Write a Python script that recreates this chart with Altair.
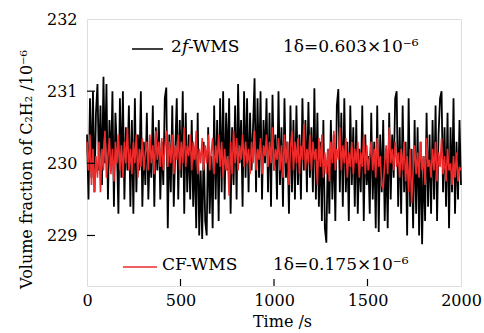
import altair as alt
import pandas as pd

# time axis (s), one sample every 8 s
time_s = list(range(0, 2001, 8))

wms_2f = [
    230.4, 229.5, 230.9, 229.8, 231.0, 229.6, 230.7, 231.1, 229.9, 230.8,
    229.7, 231.2, 230.0, 231.1, 229.5, 230.6, 229.9, 231.0, 229.4, 230.7,
    230.2, 229.3, 230.9, 229.8, 231.0, 229.5, 230.5, 229.9, 230.8, 229.4,
    230.6, 229.3, 230.9, 229.6, 230.4, 229.9, 231.0, 229.4, 230.3, 229.7,
    230.7, 229.5, 230.2, 229.8, 230.8, 229.4, 230.5, 229.9, 230.6, 229.5,
    230.3, 229.7, 230.9, 231.05, 229.1, 230.4, 229.6, 230.8, 229.4, 230.2,
    230.9, 229.5, 230.6, 229.8, 231.0, 229.3, 230.7, 229.6, 230.4, 229.5,
    230.6, 229.4, 230.2, 229.1, 230.7, 229.0, 229.9, 228.95, 230.3, 229.2,
    229.0, 230.5, 229.3, 230.1, 229.1, 230.8, 229.5, 230.6, 229.2, 230.9,
    229.6, 231.0, 229.5, 230.7, 229.9, 230.9, 229.3, 230.5, 229.7, 230.8,
    229.5, 231.1, 230.0, 230.6, 229.4, 231.0, 229.8, 230.9, 229.6, 230.7,
    229.9, 230.5, 231.18, 229.6, 230.9, 229.8, 231.0, 229.5, 230.6, 230.0,
    230.9, 229.6, 230.7, 229.4, 230.95, 229.9, 230.4, 229.5, 231.0, 229.7,
    230.5, 229.4, 230.9, 229.8, 230.3, 229.3, 230.8, 229.6, 230.6, 229.5,
    230.8, 229.7, 230.4, 229.5, 230.9, 229.9, 230.6, 229.6, 230.85, 229.8,
    230.5, 229.6, 231.04, 229.5, 230.7, 229.4, 230.3, 229.2, 230.6, 229.1,
    228.9, 230.2, 229.3, 230.6, 229.5, 230.4, 229.2, 230.8, 231.03, 229.6,
    230.7, 229.4, 230.9, 229.6, 230.3, 229.2, 230.8, 229.7, 230.5, 229.4,
    230.6, 229.3, 230.2, 229.6, 230.8, 229.2, 230.4, 229.7, 230.1, 229.3,
    230.7, 229.5, 230.3, 229.1, 230.8, 229.05, 230.4, 229.6, 230.6, 229.2,
    230.2, 229.1, 230.7, 229.5, 230.4, 229.8, 230.9, 231.0, 229.4, 230.5,
    229.3, 230.8, 229.6, 230.3, 229.0, 230.9, 229.4, 230.2, 229.1, 230.6,
    229.3, 230.5, 229.0, 230.3, 228.88, 230.1, 229.2, 230.7, 229.4, 230.4,
    229.3, 230.6, 229.5, 230.8, 229.2, 230.4, 230.9, 231.0, 229.6, 230.5,
    229.4, 230.7, 229.1, 230.5, 229.6, 230.9, 229.3, 230.3, 229.5, 230.6,
    229.7,
]

cf_wms = [
    230.3, 229.9, 230.4, 229.7, 230.2, 229.6, 230.1, 229.8, 230.3, 229.6,
    230.2, 229.9, 230.45, 229.8, 230.1, 230.35, 229.85, 230.2, 229.75, 230.3,
    230.0, 230.4, 229.9, 230.25, 229.8, 230.3, 230.0, 230.5, 229.9, 230.2,
    229.85, 230.3, 230.0, 230.4, 229.8, 230.2, 229.95, 230.35, 229.9, 230.15,
    230.3, 229.9, 230.4, 230.0, 230.25, 229.85, 230.45, 230.05, 230.3, 229.95,
    230.35, 229.9, 230.2, 230.45, 229.95, 230.3, 230.0, 230.4, 229.85, 230.25,
    230.05, 230.4, 229.9, 230.3, 230.0, 230.5, 229.95, 230.25, 230.1, 230.4,
    229.9, 230.3, 230.05, 230.45, 229.85, 230.2, 230.0, 230.35, 229.9, 230.25,
    230.0, 230.4, 229.9, 230.15, 230.35, 229.85, 230.25, 230.0, 230.4, 229.95,
    230.3, 229.8, 230.2, 229.9, 230.1, 229.55, 230.3, 229.85, 230.45, 230.0,
    230.35, 229.9, 230.25, 230.05, 230.4, 229.95, 230.3, 230.0, 230.2, 229.85,
    230.3, 230.0, 230.45, 229.9, 230.2, 230.05, 230.35, 229.85, 230.25, 230.1,
    230.4, 229.95, 230.3, 230.0, 230.5, 229.9, 230.2, 230.05, 230.35, 229.9,
    230.25, 229.8, 230.4, 230.0, 230.3, 229.7, 230.2, 230.45, 229.9, 230.3,
    230.0, 230.35, 229.85, 230.25, 230.05, 230.55, 229.9, 230.2, 230.0, 230.4,
    229.9, 230.3, 230.05, 230.2, 229.7, 230.35, 229.95, 230.4, 229.8, 230.15,
    229.85, 230.2, 229.75, 230.3, 230.0, 230.45, 229.9, 230.2, 230.05, 230.5,
    229.9, 230.25, 230.0, 230.35, 229.8, 230.15, 229.95, 230.3, 229.85, 230.2,
    230.0, 230.3, 229.8, 230.15, 229.95, 230.4, 229.85, 230.25, 229.9, 230.1,
    230.3, 229.9, 230.2, 229.8, 230.35, 229.95, 230.1, 229.7, 229.65, 230.0,
    230.25, 229.85, 230.5, 230.0, 230.2, 229.9, 230.3, 229.95, 230.15, 229.8,
    230.2, 229.9, 230.3, 229.75, 230.1, 229.6, 230.2, 229.45, 229.9, 230.25,
    229.85, 230.15, 229.8, 230.3, 229.9, 230.1, 229.7, 230.35, 229.95, 230.05,
    229.8, 230.2, 229.9, 230.3, 229.75, 230.15, 229.95, 230.35, 229.85, 230.1,
    229.75, 230.2, 229.9, 230.0, 229.7, 230.1, 229.8, 230.15, 229.75, 229.95,
    229.9,
]

x_ticks = [0, 500, 1000, 1500, 2000]
y_ticks = [229, 230, 231, 232]
inner_x_ticks = [500, 1000, 1500]
inner_y_ticks = [229, 230, 231]

FONT = "DejaVu Serif"
FS = 16
RED = "#ee2a2a"

df_black = pd.DataFrame({"t": time_s, "v": wms_2f})
df_red = pd.DataFrame({"t": time_s, "v": cf_wms})

xscale = alt.Scale(domain=[0, 2000], nice=False)
yscale = alt.Scale(domain=[228.3, 232], nice=False, zero=False)

xaxis = alt.Axis(values=x_ticks, title="Time /s", grid=False, domain=False,
                 ticks=False, labelFlush=False, format="d", labelFont=FONT,
                 labelFontSize=FS, labelColor="black", labelPadding=6,
                 titleFont=FONT, titleFontSize=FS, titleFontWeight="normal",
                 titleColor="black", titlePadding=5, titleX=195)
yaxis = alt.Axis(values=y_ticks, title="Volume fraction of C₂H₂ /10⁻⁶", grid=False,
                 domain=False, ticks=False, format="d", labelFont=FONT,
                 labelFontSize=FS, labelColor="black", labelPadding=10,
                 titleFont=FONT, titleFontSize=16, titleFontWeight="normal",
                 titleColor="black", titlePadding=12, titleY=150)

black = alt.Chart(df_black).mark_line(color="black", strokeWidth=1.8).encode(
    x=alt.X("t:Q", scale=xscale, axis=xaxis),
    y=alt.Y("v:Q", scale=yscale, axis=yaxis),
)
red = alt.Chart(df_red).mark_line(color=RED, strokeWidth=1.6).encode(
    x=alt.X("t:Q", scale=xscale),
    y=alt.Y("v:Q", scale=yscale),
)

ytick_rules = alt.Chart(pd.DataFrame({"v": inner_y_ticks})).mark_rule(
    color="black", strokeWidth=1.2).encode(
    y=alt.Y("v:Q", scale=yscale), x=alt.value(0), x2=alt.value(8))
xtick_rules = alt.Chart(pd.DataFrame({"t": inner_x_ticks})).mark_rule(
    color="black", strokeWidth=1.2).encode(
    x=alt.X("t:Q", scale=xscale), y=alt.value(267), y2=alt.value(260))

leg_black_line = alt.Chart(pd.DataFrame({"a": [0]})).mark_rule(
    color="black", strokeWidth=1.5).encode(
    x=alt.value(45), x2=alt.value(76), y=alt.value(30))
leg_red_line = alt.Chart(pd.DataFrame({"a": [0]})).mark_rule(
    color=RED, strokeWidth=1.5).encode(
    x=alt.value(36), x2=alt.value(70), y=alt.value(248))


def txt(s, x, y, style="normal"):
    return alt.Chart(pd.DataFrame({"s": [s]})).mark_text(
        font=FONT, fontSize=17, align="left", baseline="middle",
        color="black", fontStyle=style).encode(
        text="s:N", x=alt.value(x), y=alt.value(y))


labels = [
    txt("2", 84, 28),
    txt("f", 95, 28, "italic"),
    txt("-WMS", 101, 28),
    txt("1δ=0.603×10⁻⁶", 196, 28),
    txt("CF-WMS", 75, 246),
    txt("1δ=0.175×10⁻⁶", 186, 246),
]

chart = alt.layer(black, red, ytick_rules, xtick_rules, leg_black_line,
                  leg_red_line, *labels).properties(
    width=374, height=267,
    autosize=alt.AutoSizeParams(type="none"),
    padding={"left": 87, "top": 19, "right": 23, "bottom": 47},
).configure_view(stroke="black", strokeWidth=1.5).configure(background="white")

chart.save("out.html", embed_options={"renderer": "svg", "actions": False})
